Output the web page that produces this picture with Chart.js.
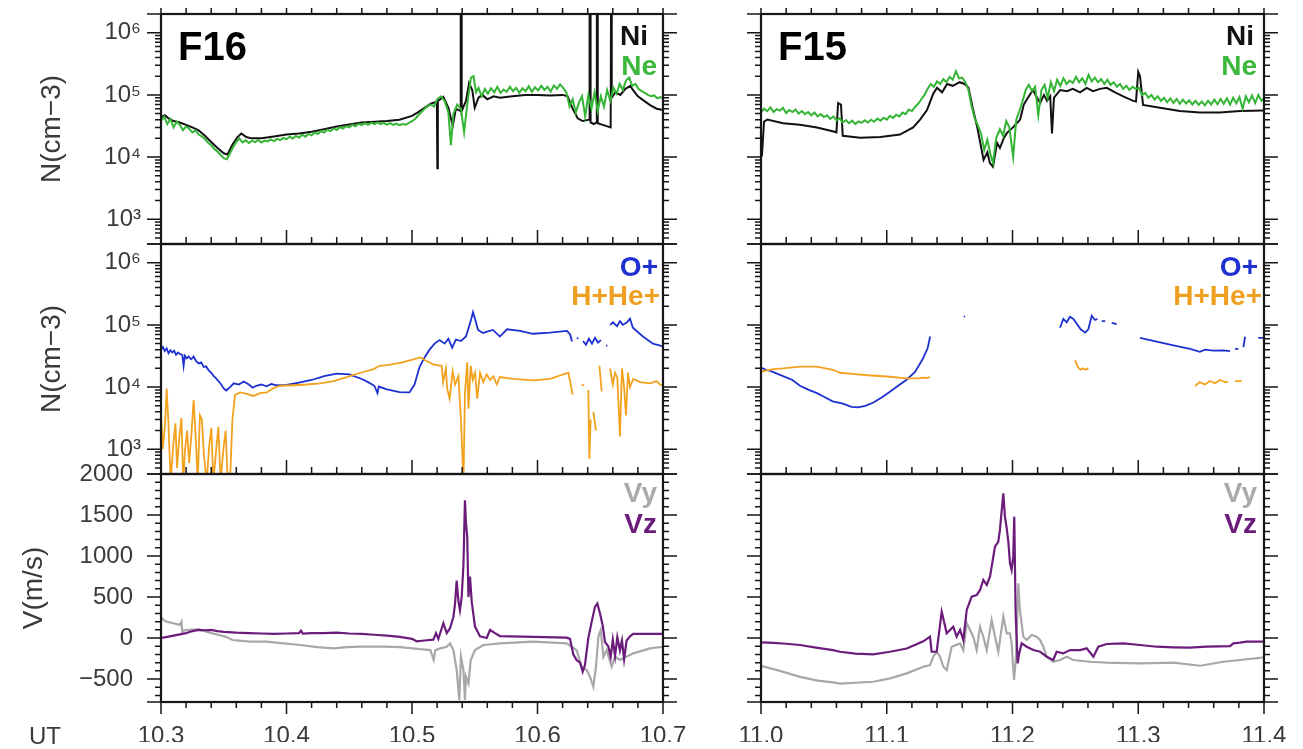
<!DOCTYPE html>
<html><head><meta charset="utf-8">
<script src="https://cdn.jsdelivr.net/npm/chart.js@4.4.1/dist/chart.umd.min.js"></script>
<style>
html,body{margin:0;padding:0;background:#fff;overflow:hidden;width:1303px;height:749px}
canvas{position:absolute;left:0;top:0}
</style></head>
<body>
<canvas id="p00" width="1303" height="749"></canvas>
<canvas id="p01" width="1303" height="749"></canvas>
<canvas id="p10" width="1303" height="749"></canvas>
<canvas id="p11" width="1303" height="749"></canvas>
<canvas id="p20" width="1303" height="749"></canvas>
<canvas id="p21" width="1303" height="749"></canvas>
<script>
// ---------------- tick labels ----------------
const xTicksF16 = [10.3, 10.4, 10.5, 10.6, 10.7];
const xTicksF15 = [11.0, 11.1, 11.2, 11.3, 11.4];
const logTicks = [1e3, 1e4, 1e5, 1e6];
const logTickLabels = ['10³', '10⁴', '10⁵', '10⁶'];
const velTicks = [-500, 0, 500, 1000, 1500, 2000];
const velTickLabels = ['−500', '0', '500', '1000', '1500', '2000'];

// ---------------- F16 densities [UT, N] ----------------
const f16Ni = [[10.300,44000],[10.303,47000],[10.306,42000],[10.310,38000],[10.315,36000],[10.320,33000],[10.325,30000],[10.330,27000],[10.335,22000],[10.340,17500],[10.345,14000],[10.350,11500],[10.353,11000],[10.357,16000],[10.361,21000],[10.364,24000],[10.368,21000],[10.372,20000],[10.380,20000],[10.390,21500],[10.400,23000],[10.410,24000],[10.420,25500],[10.430,28000],[10.440,31000],[10.450,33500],[10.460,36000],[10.470,37000],[10.480,38000],[10.490,40000],[10.500,46000],[10.505,53000],[10.510,62000],[10.515,72000],[10.5198,78000],[10.5202,6600],[10.5206,80000],[10.525,93000],[10.529,62000],[10.5325,32000],[10.535,60000],[10.5385,55000],[10.5388,3e6],[10.5393,3e6],[10.5396,55000],[10.543,80000],[10.5455,155000],[10.548,120000],[10.550,62000],[10.553,90000],[10.556,100000],[10.560,85000],[10.565,95000],[10.570,90000],[10.580,95000],[10.590,100000],[10.600,100000],[10.610,98000],[10.620,100000],[10.624,95000],[10.628,60000],[10.632,42000],[10.636,38000],[10.6412,40000],[10.6415,3e6],[10.6420,3e6],[10.6423,36000],[10.645,34000],[10.6470,36000],[10.6473,3e6],[10.6477,3e6],[10.648,35000],[10.652,33000],[10.6583,30000],[10.6586,3e6],[10.6590,3e6],[10.6593,90000],[10.662,110000],[10.666,100000],[10.670,125000],[10.674,140000],[10.676,120000],[10.680,95000],[10.685,80000],[10.690,68000],[10.695,60000],[10.700,57000]];
const f16Ne = [[10.3000,38000],[10.3025,45000],[10.3050,34000],[10.3075,41000],[10.3100,30000],[10.3125,37000],[10.3150,33000],[10.3175,27000],[10.3200,31000],[10.3225,28500],[10.3250,25000],[10.3275,27000],[10.3300,23000],[10.3325,21500],[10.3350,19500],[10.3375,17000],[10.3400,15500],[10.3425,13500],[10.3450,12300],[10.3475,10800],[10.3500,9600],[10.3525,9200],[10.3550,11500],[10.3575,14500],[10.3600,17500],[10.3625,19800],[10.3650,17200],[10.3675,18600],[10.3700,16800],[10.3725,18200],[10.3750,17400],[10.3775,18800],[10.3800,17100],[10.3825,18400],[10.3850,17900],[10.3875,19200],[10.3900,18100],[10.3925,19600],[10.3950,18700],[10.3975,20300],[10.4000,19400],[10.4025,21200],[10.4050,19900],[10.4075,21800],[10.4100,20600],[10.4125,22900],[10.4150,21300],[10.4175,23600],[10.4200,22400],[10.4225,24800],[10.4250,23500],[10.4275,26200],[10.4300,24700],[10.4325,27600],[10.4350,26100],[10.4375,28900],[10.4400,27300],[10.4425,30200],[10.4450,28800],[10.4475,31500],[10.4500,30000],[10.4525,33100],[10.4550,31200],[10.4575,34300],[10.4600,32600],[10.4625,35200],[10.4650,33100],[10.4675,35800],[10.4700,34000],[10.4725,36200],[10.4750,33800],[10.4775,35400],[10.4800,33200],[10.4825,35100],[10.4850,32900],[10.4875,34600],[10.4900,32500],[10.4925,33900],[10.4950,33100],[10.4975,35500],[10.5000,38000],[10.5025,41000],[10.5050,47000],[10.5075,53000],[10.5100,60000],[10.5125,66000],[10.5150,70000],[10.5175,65000],[10.5200,85000],[10.5230,95000],[10.5260,80000],[10.5290,52000],[10.5310,15600],[10.5330,50000],[10.5360,70000],[10.5390,60000],[10.5415,25000],[10.5440,70000],[10.5470,190000],[10.5490,200000],[10.5510,110000],[10.5530,130000],[10.5555,95000],[10.5580,125000],[10.5605,105000],[10.5630,128000],[10.5655,110000],[10.5680,135000],[10.5705,108000],[10.5730,122000],[10.5755,112000],[10.5780,135000],[10.5805,115000],[10.5830,130000],[10.5855,108000],[10.5880,128000],[10.5905,115000],[10.5930,138000],[10.5955,112000],[10.5980,132000],[10.6005,118000],[10.6030,140000],[10.6055,120000],[10.6080,135000],[10.6105,113000],[10.6130,142000],[10.6155,125000],[10.6180,148000],[10.6205,130000],[10.6230,110000],[10.6255,65000],[10.6280,85000],[10.6305,52000],[10.6330,75000],[10.6355,95000],[10.6380,45000],[10.6405,100000],[10.6430,60000],[10.6455,110000],[10.6480,55000],[10.6505,95000],[10.6530,65000],[10.6555,120000],[10.6580,80000],[10.6605,130000],[10.6630,105000],[10.6655,150000],[10.6680,120000],[10.6705,170000],[10.6730,190000],[10.6755,140000],[10.6780,150000],[10.6805,125000],[10.6830,115000],[10.6855,108000],[10.6880,100000],[10.6905,95000],[10.6930,98000],[10.6955,88000],[10.6980,92000],[10.7000,88000]];

// ---------------- F15 densities ----------------
const f15Ni = [[11.000,11500],[11.0008,11000],[11.0024,37000],[11.005,40000],[11.0175,35000],[11.031,33000],[11.0445,30000],[11.057,26000],[11.060,25000],[11.0613,74000],[11.0636,70000],[11.065,22000],[11.079,20500],[11.095,21000],[11.1105,23000],[11.121,30000],[11.1265,40000],[11.132,57000],[11.137,105000],[11.140,130000],[11.144,110000],[11.148,150000],[11.1525,140000],[11.158,160000],[11.162,150000],[11.165,130000],[11.1685,60000],[11.172,30000],[11.174,18500],[11.177,9000],[11.180,12000],[11.182,8000],[11.1845,7000],[11.1877,17000],[11.190,14000],[11.193,20000],[11.1956,24500],[11.2004,30000],[11.206,40000],[11.209,70000],[11.2115,85000],[11.2163,120000],[11.2195,90000],[11.222,74000],[11.225,100000],[11.2275,80000],[11.230,95000],[11.2314,24000],[11.233,90000],[11.238,120000],[11.2433,115000],[11.248,125000],[11.2537,110000],[11.259,130000],[11.264,115000],[11.2696,125000],[11.275,130000],[11.2815,110000],[11.288,95000],[11.296,80000],[11.2982,78000],[11.300,235000],[11.3014,200000],[11.3038,69000],[11.3173,62000],[11.333,55000],[11.349,52000],[11.365,52000],[11.381,55000],[11.400,56000]];
const f15Ne = [[11.0000,52000],[11.0025,60000],[11.0050,55000],[11.0075,63000],[11.0100,53000],[11.0125,59000],[11.0150,56000],[11.0175,62000],[11.0200,51000],[11.0225,57000],[11.0250,53000],[11.0275,58000],[11.0300,50000],[11.0325,55000],[11.0350,49000],[11.0375,53000],[11.0400,47000],[11.0425,52000],[11.0450,45000],[11.0475,49000],[11.0500,44000],[11.0525,47000],[11.0550,41000],[11.0575,45000],[11.0600,39000],[11.0625,42000],[11.0650,36000],[11.0675,39500],[11.0700,35000],[11.0725,38500],[11.0750,34000],[11.0775,37500],[11.0800,35500],[11.0825,39000],[11.0850,36000],[11.0875,40000],[11.0900,37000],[11.0925,41500],[11.0950,38500],[11.0975,43000],[11.1000,40000],[11.1025,46000],[11.1050,42500],[11.1075,48000],[11.1100,45000],[11.1125,52000],[11.1150,49000],[11.1175,58000],[11.1200,55000],[11.1225,64000],[11.1250,72000],[11.1275,85000],[11.1300,100000],[11.1325,125000],[11.1350,150000],[11.1375,135000],[11.1400,165000],[11.1425,150000],[11.1450,180000],[11.1475,160000],[11.1500,195000],[11.1525,175000],[11.1550,240000],[11.1575,185000],[11.1600,190000],[11.1625,160000],[11.1650,120000],[11.1675,65000],[11.1700,42000],[11.1725,32000],[11.1750,24000],[11.1775,13000],[11.1800,19000],[11.1825,11000],[11.1845,8000],[11.1870,20000],[11.1900,28000],[11.1925,22000],[11.1950,38000],[11.1975,30000],[11.2005,10000],[11.2030,40000],[11.2055,55000],[11.2080,80000],[11.2105,120000],[11.2130,145000],[11.2155,115000],[11.2180,135000],[11.2205,47000],[11.2230,120000],[11.2255,145000],[11.2280,90000],[11.2305,160000],[11.2330,115000],[11.2355,175000],[11.2380,140000],[11.2405,185000],[11.2430,150000],[11.2455,170000],[11.2480,155000],[11.2505,195000],[11.2530,160000],[11.2555,185000],[11.2580,150000],[11.2605,210000],[11.2630,165000],[11.2655,190000],[11.2680,160000],[11.2705,180000],[11.2730,150000],[11.2755,175000],[11.2780,145000],[11.2805,160000],[11.2830,135000],[11.2855,150000],[11.2880,125000],[11.2905,140000],[11.2930,120000],[11.2955,135000],[11.2980,125000],[11.3005,130000],[11.3030,100000],[11.3055,108000],[11.3080,90000],[11.3105,100000],[11.3130,84000],[11.3155,95000],[11.3180,80000],[11.3205,90000],[11.3230,76000],[11.3255,88000],[11.3280,74000],[11.3305,86000],[11.3330,72000],[11.3355,84000],[11.3380,73000],[11.3405,82000],[11.3430,70000],[11.3455,80000],[11.3480,69000],[11.3505,78000],[11.3530,68000],[11.3555,81000],[11.3580,70000],[11.3605,84000],[11.3630,71000],[11.3655,86000],[11.3680,72000],[11.3705,88000],[11.3730,70000],[11.3755,90000],[11.3780,73000],[11.3805,92000],[11.3830,60000],[11.3855,95000],[11.3880,76000],[11.3905,98000],[11.3930,74000],[11.3955,100000],[11.3980,80000],[11.4000,88000]];

// ---------------- F16 ions ----------------
const f16Op = [[10.300,40000],[10.3015,44000],[10.303,38000],[10.3045,42000],[10.306,35000],[10.3075,39000],[10.309,36000],[10.3105,38500],[10.312,33000],[10.3135,36000],[10.315,34000],[10.317,33000],[10.318,22000],[10.319,32000],[10.3205,29000],[10.322,31000],[10.324,28000],[10.326,31000],[10.328,26000],[10.330,24000],[10.332,25000],[10.334,21000],[10.336,21500],[10.338,18500],[10.340,17000],[10.342,15000],[10.344,13800],[10.346,12300],[10.348,11000],[10.350,9500],[10.352,8800],[10.355,10000],[10.358,11500],[10.362,11000],[10.366,12300],[10.370,11000],[10.373,9800],[10.376,10500],[10.380,11000],[10.384,10300],[10.388,11200],[10.392,10700],[10.396,10700],[10.400,10800],[10.410,11800],[10.420,13000],[10.430,15000],[10.440,16500],[10.450,16000],[10.460,13500],[10.465,12000],[10.470,10500],[10.4725,8000],[10.4735,10200],[10.480,9200],[10.490,8300],[10.498,8200],[10.502,11000],[10.506,21000],[10.510,30000],[10.514,40000],[10.518,50000],[10.522,57000],[10.526,50000],[10.529,60000],[10.532,43000],[10.535,58000],[10.539,55000],[10.543,65000],[10.547,120000],[10.5486,160000],[10.551,110000],[10.5526,83000],[10.5566,74000],[10.5598,78000],[10.5645,83000],[10.570,65000],[10.5757,85000],[10.586,80000],[10.5964,72000],[10.610,75000],[10.6235,80000],[10.626,70000],[10.6275,54000],[10.629,null],[10.6315,62000],[10.6325,60000],[10.6335,null],[10.6363,55000],[10.6386,48000],[10.641,60000],[10.6434,50000],[10.6458,62000],[10.6482,52000],[10.6506,57000],[10.652,null],[10.6546,47000],[10.6556,46000],[10.6566,null],[10.6578,100000],[10.6602,110000],[10.6634,95000],[10.6657,115000],[10.668,100000],[10.6713,110000],[10.6737,126000],[10.676,90000],[10.684,65000],[10.692,50000],[10.700,45000]];
const f16Hp = [[10.300,3800],[10.3013,1000],[10.3032,2500],[10.3045,9500],[10.3058,3000],[10.3077,300],[10.3098,1200],[10.3115,2600],[10.3128,500],[10.3145,1500],[10.3163,3200],[10.3177,300],[10.3192,1000],[10.3208,2000],[10.3224,600],[10.3243,1800],[10.326,6200],[10.3277,1500],[10.3293,300],[10.331,3500],[10.3326,3000],[10.3342,800],[10.3364,300],[10.3385,1200],[10.3401,2200],[10.3417,300],[10.3438,900],[10.3457,2300],[10.3475,300],[10.3497,1000],[10.3515,2000],[10.3532,300],[10.355,300],[10.3569,3000],[10.359,7500],[10.363,8200],[10.3684,7800],[10.3737,7200],[10.379,8000],[10.3843,8200],[10.3896,9600],[10.395,10500],[10.4056,10700],[10.416,11000],[10.427,11500],[10.4376,12500],[10.448,14500],[10.459,17000],[10.4695,19500],[10.474,22000],[10.480,22500],[10.4907,24500],[10.5013,28000],[10.5066,30000],[10.512,26000],[10.5173,23000],[10.5236,22000],[10.5248,12000],[10.527,20000],[10.528,9500],[10.530,6500],[10.5324,18000],[10.5343,11000],[10.537,15000],[10.539,3000],[10.541,300],[10.5422,8000],[10.544,25000],[10.545,4500],[10.5468,22000],[10.5484,13000],[10.5502,17000],[10.552,6500],[10.5542,17000],[10.5568,12000],[10.5595,16000],[10.5622,13000],[10.5648,15000],[10.5675,11000],[10.570,14500],[10.5807,13500],[10.5967,12800],[10.610,13500],[10.6206,16000],[10.6246,17000],[10.6265,11000],[10.628,7500],[10.630,null],[10.6352,11000],[10.637,10500],[10.638,null],[10.6405,9000],[10.6413,700],[10.6424,3000],[10.6435,null],[10.6445,4000],[10.6466,2000],[10.6475,null],[10.6493,22000],[10.6512,8500],[10.6525,null],[10.6578,20000],[10.660,11000],[10.6618,17000],[10.6636,14000],[10.6657,1600],[10.6673,20000],[10.669,10000],[10.6705,3500],[10.6721,17000],[10.6737,10000],[10.6763,13500],[10.6817,12000],[10.6896,11500],[10.695,12500],[10.6976,11000],[10.700,10500]];

// ---------------- F15 ions ----------------
const f15Op = [[11.000,20500],[11.004,19000],[11.008,18000],[11.0175,15000],[11.025,13000],[11.031,10500],[11.038,9000],[11.0445,8000],[11.050,7000],[11.057,5900],[11.065,5400],[11.072,4800],[11.077,4700],[11.083,5000],[11.089,5600],[11.096,6800],[11.1025,8400],[11.109,10500],[11.1155,13000],[11.1225,17500],[11.1285,28000],[11.1325,42000],[11.1345,65000],[11.136,null],[11.1612,135000],[11.1622,138000],[11.163,null],[11.2378,90000],[11.2404,125000],[11.2431,110000],[11.2457,135000],[11.2484,125000],[11.251,105000],[11.2542,85000],[11.2577,75000],[11.2603,85000],[11.263,140000],[11.2656,120000],[11.2675,125000],[11.269,null],[11.271,115000],[11.2737,115000],[11.276,null],[11.2789,108000],[11.2829,103000],[11.285,null],[11.3014,62000],[11.3147,54000],[11.328,47000],[11.3412,41000],[11.349,37000],[11.353,40000],[11.3597,38500],[11.3676,39000],[11.373,38000],[11.375,null],[11.377,41000],[11.3796,41000],[11.381,null],[11.3836,44000],[11.385,65000],[11.387,null],[11.3955,62000],[11.400,62000]];
const f15Hp = [[11.000,17800],[11.010,19500],[11.0175,20000],[11.031,21400],[11.0445,21400],[11.057,19000],[11.063,17000],[11.075,16200],[11.085,15500],[11.100,14800],[11.116,13800],[11.125,13800],[11.1285,14200],[11.132,14000],[11.1345,14500],[11.136,null],[11.2497,27000],[11.252,21000],[11.254,19000],[11.256,20000],[11.2585,19000],[11.2603,20000],[11.262,null],[11.3451,10400],[11.349,12000],[11.353,11000],[11.357,12500],[11.361,11500],[11.365,13000],[11.369,12000],[11.3715,12000],[11.374,null],[11.377,12500],[11.3823,12500]];

// ---------------- velocities [UT, V m/s] ----------------
const f16Vz = [[10.300,0],[10.305,15],[10.310,30],[10.315,45],[10.320,60],[10.325,85],[10.330,100],[10.335,95],[10.340,100],[10.345,85],[10.350,75],[10.360,65],[10.370,60],[10.380,55],[10.390,50],[10.400,55],[10.410,60],[10.4115,90],[10.413,55],[10.420,60],[10.430,60],[10.440,65],[10.450,55],[10.460,50],[10.470,40],[10.480,30],[10.4904,15],[10.500,-10],[10.5037,-40],[10.510,-30],[10.517,-20],[10.5191,60],[10.521,-10],[10.525,180],[10.5277,60],[10.5303,120],[10.533,260],[10.5343,420],[10.5356,700],[10.537,450],[10.5382,340],[10.5396,500],[10.541,900],[10.5422,1680],[10.543,1400],[10.544,1236],[10.545,500],[10.5462,750],[10.5476,440],[10.5502,140],[10.5542,20],[10.5595,0],[10.5622,98],[10.5661,60],[10.570,24],[10.5967,15],[10.6233,5],[10.6259,-10],[10.6285,-200],[10.6312,-270],[10.6339,-300],[10.636,-410],[10.6378,-330],[10.6405,0],[10.6432,200],[10.6458,380],[10.6477,420],[10.6498,300],[10.652,150],[10.6538,-50],[10.6564,-100],[10.6583,-230],[10.660,-20],[10.6618,-220],[10.6636,10],[10.6657,-150],[10.6673,-30],[10.669,-260],[10.671,-30],[10.6737,20],[10.6763,50],[10.6896,50],[10.700,50]];
const f16Vy = [[10.300,260],[10.3019,220],[10.3045,200],[10.3098,180],[10.315,160],[10.3163,200],[10.317,80],[10.3195,98],[10.330,106],[10.341,57],[10.3518,16],[10.357,-24],[10.371,-45],[10.384,-45],[10.3976,-65],[10.411,-85],[10.4243,-110],[10.4376,-126],[10.448,-110],[10.4588,-106],[10.477,-106],[10.4907,-110],[10.5066,-135],[10.5146,-147],[10.5173,-268],[10.5186,-147],[10.5226,-126],[10.5277,-106],[10.5303,-65],[10.533,-147],[10.5356,-390],[10.5377,-756],[10.539,-228],[10.541,-390],[10.5422,-756],[10.543,-471],[10.545,-553],[10.5468,-268],[10.5502,-147],[10.5568,-85],[10.570,-65],[10.5967,-45],[10.6233,-65],[10.6312,-147],[10.6352,-350],[10.6392,-390],[10.6418,-471],[10.6445,-594],[10.6466,-350],[10.6485,16],[10.6504,98],[10.6525,-228],[10.6551,-147],[10.6591,-350],[10.6618,-228],[10.6657,-268],[10.6763,-187],[10.6896,-126],[10.700,-106]];
const f15Vz = [[11.000,-53],[11.010,-60],[11.020,-70],[11.031,-85],[11.045,-120],[11.0573,-147],[11.0628,-167],[11.075,-190],[11.0893,-199],[11.1026,-167],[11.1159,-128],[11.1291,-40],[11.1344,16],[11.1357,-167],[11.1397,-167],[11.1437,321],[11.1477,57],[11.1529,138],[11.1556,16],[11.1583,98],[11.1609,-24],[11.1636,342],[11.1675,504],[11.1715,524],[11.1742,586],[11.1768,708],[11.1795,647],[11.1821,748],[11.1861,1114],[11.1887,1175],[11.1900,1318],[11.1927,1765],[11.1940,1480],[11.1954,1338],[11.1967,1175],[11.1980,911],[11.1993,830],[11.2006,992],[11.2014,1480],[11.2025,301],[11.2041,-309],[11.2053,-187],[11.2073,-65],[11.2113,-106],[11.2166,-147],[11.2219,-167],[11.2272,-228],[11.2324,-268],[11.2351,-167],[11.2404,-187],[11.2457,-147],[11.2537,-147],[11.259,-126],[11.2643,-228],[11.2683,-106],[11.2749,-73],[11.2881,-65],[11.3014,-85],[11.3147,-106],[11.3279,-114],[11.3412,-118],[11.3544,-106],[11.3730,-98],[11.3756,-65],[11.3809,-57],[11.3862,-45],[11.400,-45]];
const f15Vy = [[11.000,-338],[11.015,-400],[11.031,-473],[11.045,-520],[11.0573,-540],[11.0628,-555],[11.0893,-533],[11.1026,-492],[11.1159,-431],[11.1291,-350],[11.1344,-330],[11.137,-228],[11.1397,-167],[11.1424,-228],[11.145,-350],[11.1477,-390],[11.150,-228],[11.1516,-106],[11.1583,-65],[11.1609,-147],[11.1636,183],[11.1662,98],[11.1688,16],[11.1715,-147],[11.1742,138],[11.1768,16],[11.1795,-147],[11.1834,220],[11.1861,16],[11.1887,-167],[11.1927,260],[11.1954,57],[11.198,57],[11.1993,-65],[11.2012,-512],[11.2028,-228],[11.2046,667],[11.2059,342],[11.2086,16],[11.2113,-24],[11.2153,37],[11.2192,16],[11.2219,-24],[11.2245,-106],[11.2272,-228],[11.2324,-289],[11.2378,-268],[11.2431,-228],[11.2483,-268],[11.2616,-289],[11.2749,-301],[11.3014,-309],[11.3279,-301],[11.3491,-338],[11.3677,-289],[11.3809,-268],[11.400,-236]];

// ---------------- layout & style ----------------
const FONT = '"Liberation Sans", Arial, Helvetica, sans-serif';
const TXT = '#3a3a3a';
const PAGE_W = 1303, PAGE_H = 749;
const COLS = [
  {left: 161, right: 663, min: 10.3, max: 10.7, ticks: xTicksF16},
  {left: 761, right: 1264, min: 11.0, max: 11.4, ticks: xTicksF15}
];
const ROWS = [{top: 14, bottom: 244}, {top: 244, bottom: 474}, {top: 474, bottom: 702}];
const LOGY = {log: true, min: 400, max: 2e6, ticks: logTicks, labels: logTickLabels, pad: 20, title: 'N(cm−3)', titlePad: 35};
const VELY = {log: false, min: -780, max: 2000, ticks: velTicks, labels: velTickLabels, pad: 28, title: 'V(m/s)', titlePad: 17};

const C_NI = '#111111', C_NE = '#35b535', C_OP = '#1d30d0', C_HP = '#f2a21e', C_VY = '#a8a8a8', C_VZ = '#6b1c7b';

const framePlugin = {
  id: 'frame',
  afterDatasetsDraw(chart, args, o) {
    const {ctx, chartArea: a} = chart;
    const xs = chart.scales.x, ys = chart.scales.y;
    ctx.save();
    ctx.strokeStyle = '#161616';
    ctx.lineWidth = 1.5;
    ctx.beginPath();
    const yt = [];
    if (o.log) {
      for (let k = 2; k <= 6; k++) for (let m = 1; m <= 9; m++) {
        const v = m * Math.pow(10, k);
        if (v >= ys.min && v <= ys.max) yt.push([v, m === 1]);
      }
    } else {
      for (let v = -700; v <= 2000; v += 100) yt.push([v, v % 500 === 0]);
    }
    for (const [v, maj] of yt) {
      const py = ys.getPixelForValue(v), L = maj ? 14 : 6;
      ctx.moveTo(a.left - L, py); ctx.lineTo(a.left, py);
      ctx.moveTo(a.right, py); ctx.lineTo(a.right + L, py);
    }
    for (const py of [a.top, a.bottom]) {
      ctx.moveTo(a.left - 14, py); ctx.lineTo(a.left, py);
      ctx.moveTo(a.right, py); ctx.lineTo(a.right + 14, py);
    }
    for (let i = 0; i <= 20; i++) {
      const v = xs.min + i * (xs.max - xs.min) / 20;
      const px = xs.getPixelForValue(v), maj = i % 5 === 0;
      if (o.row === 0) { ctx.moveTo(px, a.top); ctx.lineTo(px, a.top - 6); }
      if (o.row < 2) { const L = maj ? 14 : 7; ctx.moveTo(px, a.bottom); ctx.lineTo(px, a.bottom - L); }
      else { const L = maj ? 12 : 6; ctx.moveTo(px, a.bottom); ctx.lineTo(px, a.bottom + L); }
    }
    ctx.stroke();
    ctx.lineWidth = 2.2;
    ctx.strokeRect(a.left, a.top, a.right - a.left, a.bottom - a.top);
    for (const t of (o.texts || [])) {
      ctx.font = t.font; ctx.fillStyle = t.color;
      ctx.textAlign = t.align || 'left'; ctx.textBaseline = t.baseline || 'alphabetic';
      ctx.fillText(t.text, t.x, t.y);
    }
    ctx.restore();
  }
};

function panel(id, col, row, series, yc, texts) {
  const C = COLS[col], R = ROWS[row];
  const yw = col === 0 ? C.left : 20;
  const xh = row === 2 ? 40 : 0;
  return new Chart(document.getElementById(id), {
    type: 'line',
    data: {datasets: series.map(s => ({
      data: s.data.map(p => ({x: p[0], y: p[1]})),
      borderColor: s.color, borderWidth: s.width, pointRadius: 0, tension: 0, fill: false, spanGaps: false
    }))},
    options: {
      responsive: false, animation: false, events: [],
      layout: {padding: {left: C.left - yw, right: PAGE_W - C.right, top: R.top, bottom: PAGE_H - R.bottom - xh}},
      plugins: {legend: {display: false}, tooltip: {enabled: false}, frame: {row, log: yc.log, texts}},
      scales: {
        x: {
          type: 'linear', min: C.min, max: C.max,
          grid: {display: false, drawTicks: false}, border: {display: false},
          ticks: {display: row === 2, font: {family: FONT, size: 24}, color: TXT, padding: 20, maxRotation: 0, autoSkip: false,
                  callback: v => Number(v).toFixed(1)},
          afterBuildTicks: s => { s.ticks = C.ticks.map(v => ({value: v})); },
          afterFit: s => { s.height = xh; s.paddingLeft = 0; s.paddingRight = 0; }
        },
        y: {
          type: yc.log ? 'logarithmic' : 'linear', min: yc.min, max: yc.max,
          grid: {display: false, drawTicks: false}, border: {display: false},
          ticks: {display: col === 0, font: {family: FONT, size: 24}, color: TXT, padding: yc.pad, autoSkip: false,
                  callback: v => yc.labels[yc.ticks.indexOf(v)]},
          afterBuildTicks: s => { s.ticks = yc.ticks.map(v => ({value: v})); },
          afterFit: s => { s.width = yw; s.paddingTop = 0; s.paddingBottom = 0; },
          title: {display: col === 0, text: yc.title, font: {family: FONT, size: 28}, color: TXT, padding: {top: yc.titlePad, bottom: 0}}
        }
      }
    },
    plugins: [framePlugin]
  });
}

const B28 = 'bold 28px ' + FONT;
const B40 = 'bold 40px ' + FONT;

panel('p00', 0, 0, [{data: f16Ne, color: C_NE, width: 2}, {data: f16Ni, color: C_NI, width: 2}], LOGY, [
  {text: 'F16', x: 178, y: 60, font: B40, color: '#000'},
  {text: 'Ni', x: 648, y: 45, font: B28, color: '#111', align: 'right'},
  {text: 'Ne', x: 657, y: 75, font: B28, color: '#3cb93c', align: 'right'}
]);
panel('p01', 1, 0, [{data: f15Ne, color: C_NE, width: 2}, {data: f15Ni, color: C_NI, width: 2}], LOGY, [
  {text: 'F15', x: 778, y: 60, font: B40, color: '#000'},
  {text: 'Ni', x: 1254, y: 45, font: B28, color: '#111', align: 'right'},
  {text: 'Ne', x: 1257, y: 75, font: B28, color: '#3cb93c', align: 'right'}
]);
panel('p10', 0, 1, [{data: f16Hp, color: C_HP, width: 1.8}, {data: f16Op, color: C_OP, width: 1.8}], LOGY, [
  {text: 'O+', x: 658, y: 276, font: B28, color: C_OP, align: 'right'},
  {text: 'H+He+', x: 660, y: 305, font: B28, color: '#f0a020', align: 'right'}
]);
panel('p11', 1, 1, [{data: f15Hp, color: C_HP, width: 1.8}, {data: f15Op, color: C_OP, width: 1.8}], LOGY, [
  {text: 'O+', x: 1258, y: 276, font: B28, color: C_OP, align: 'right'},
  {text: 'H+He+', x: 1262, y: 305, font: B28, color: '#f0a020', align: 'right'}
]);
panel('p20', 0, 2, [{data: f16Vz, color: C_VZ, width: 2.2}, {data: f16Vy, color: C_VY, width: 2.2}], VELY, [
  {text: 'Vy', x: 657, y: 502, font: B28, color: '#aaaaaa', align: 'right'},
  {text: 'Vz', x: 657, y: 533, font: B28, color: C_VZ, align: 'right'},
  {text: 'UT', x: 45, y: 737, font: '24px ' + FONT, color: TXT, align: 'center', baseline: 'middle'}
]);
panel('p21', 1, 2, [{data: f15Vz, color: C_VZ, width: 2.2}, {data: f15Vy, color: C_VY, width: 2.2}], VELY, [
  {text: 'Vy', x: 1257, y: 502, font: B28, color: '#aaaaaa', align: 'right'},
  {text: 'Vz', x: 1257, y: 533, font: B28, color: C_VZ, align: 'right'}
]);
</script>
</body></html>
